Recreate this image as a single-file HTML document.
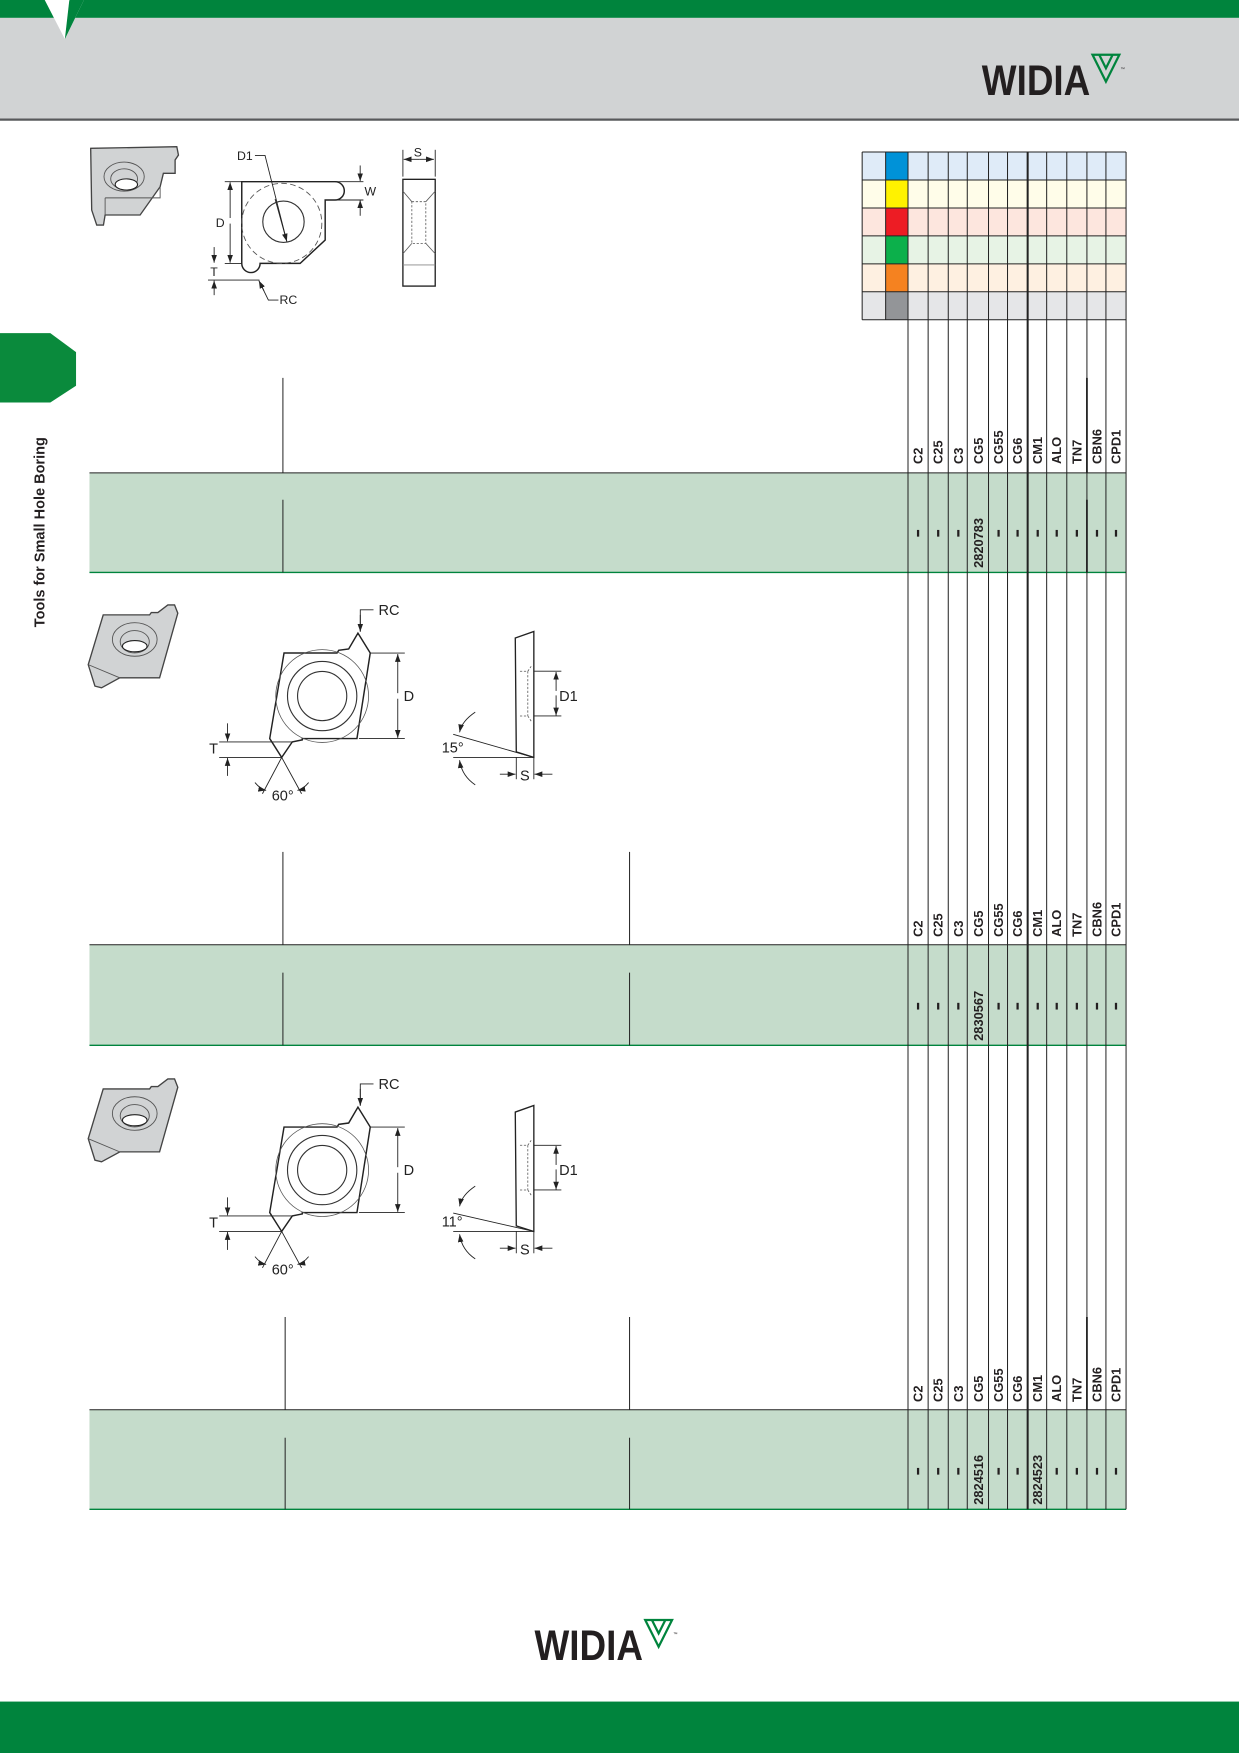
<!DOCTYPE html>
<html><head><meta charset="utf-8"><style>
html,body{margin:0;padding:0;background:#fff;}
svg{display:block;}
text{font-family:"Liberation Sans",Arial,sans-serif;}
</style></head><body>
<svg width="1239" height="1753" viewBox="0 0 1108 1568" xmlns="http://www.w3.org/2000/svg" preserveAspectRatio="none">
<defs>
<marker id="ar" markerWidth="8" markerHeight="8" refX="7" refY="4" orient="auto" markerUnits="userSpaceOnUse"><path d="M0,1.5 L7,4 L0,6.5 Z" fill="#222"/></marker>
<g id="logo">
<text x="0" y="0" font-family="'Liberation Sans Narrow','Liberation Sans',sans-serif" font-weight="bold" font-size="38" fill="#231f20" textLength="97" lengthAdjust="spacingAndGlyphs">WIDIA</text>
<path d="M99,-36 L123,-36 L111,-12 Z M105,-36 L111,-24 L117,-36" fill="none" stroke="#00843d" stroke-width="2"/>
<text x="124" y="-22" font-size="4" fill="#231f20">™</text>
</g>
<g id="s23">
<path d="M92.3,550 L133.8,550 L135.3,547.9 L141.2,547.9 L150.1,541.1 L156.1,541.1 L159,548.5 L142.7,606.3 L107.1,606.3 L90.8,615.2 L84.9,613.7 L78.9,594.5 Z" fill="#d1d3d4" stroke="#444" stroke-width="1.2"/>
<ellipse cx="120.5" cy="572" rx="20" ry="15" fill="none" stroke="#555" stroke-width="0.8"/>
<ellipse cx="120.5" cy="574" rx="13" ry="10" fill="none" stroke="#555" stroke-width="0.8"/>
<ellipse cx="120.5" cy="578" rx="11" ry="5" fill="#fff" stroke="#222" stroke-width="1"/>
<path d="M78.9,594.5 L107.1,606.3" stroke="#555" stroke-width="0.8"/>
<path d="M254,584.1 L301.4,584.1 L302.9,581.7 L311.8,580.5 L320.1,566.3 L331.1,584.1 L319.2,660.6 L270.3,660.6 L270.3,661.8 L261.4,663.6 L251.9,677.5 L241.2,660.6 Z" fill="none" stroke="#222" stroke-width="1.3"/>
<circle cx="288.1" cy="622.6" r="41.5" fill="none" stroke="#555" stroke-width="0.7"/>
<circle cx="288.1" cy="622.6" r="31" fill="none" stroke="#333" stroke-width="1"/>
<circle cx="288.1" cy="622.6" r="22" fill="none" stroke="#333" stroke-width="1"/>
<g stroke="#222" stroke-width="0.8" fill="none">
<line x1="331" y1="584.1" x2="362" y2="584.1"/><line x1="321" y1="660.6" x2="362" y2="660.6"/>
<line x1="355.7" y1="620" x2="355.7" y2="585" marker-end="url(#ar)"/><line x1="355.7" y1="625" x2="355.7" y2="660" marker-end="url(#ar)"/>
<polyline points="322.2,565 322.2,545.5 334,545.5" /><line x1="322.2" y1="550" x2="322.2" y2="565" marker-end="url(#ar)"/>
<line x1="196" y1="663.6" x2="262" y2="663.6"/><line x1="196" y1="677.5" x2="252" y2="677.5"/>
<line x1="203.5" y1="647" x2="203.5" y2="663" marker-end="url(#ar)"/><line x1="203.5" y1="694" x2="203.5" y2="678" marker-end="url(#ar)"/>
<line x1="251.9" y1="677.5" x2="234.7" y2="710"/><line x1="251.9" y1="677.5" x2="269.7" y2="710"/>
<path d="M228,700 Q233,706 238,707" marker-end="url(#ar)"/><path d="M276,700 Q271,706 266,707" marker-end="url(#ar)"/>
</g>
<text x="338.5" y="550" font-size="13" fill="#222">RC</text>
<text x="361" y="627" font-size="13" fill="#222">D</text>
<text x="187" y="674" font-size="13" fill="#222">T</text>
<text x="243" y="716" font-size="13" fill="#222">60°</text>
<path d="M460.8,570.7 L477.4,564.8 L477.4,677.5 L461.7,672.5 Z" fill="none" stroke="#222" stroke-width="1.2"/>
<g stroke="#555" stroke-width="0.7" stroke-dasharray="2,1.5" fill="none">
<polyline points="465,600.4 472,600.4 475,596"/><polyline points="465,640.4 472,640.4 475,645"/><line x1="472" y1="600.4" x2="472" y2="640.4"/>
</g>
<g stroke="#222" stroke-width="0.8" fill="none">
<line x1="477.4" y1="600.4" x2="502" y2="600.4"/><line x1="477.4" y1="640.4" x2="502" y2="640.4"/>
<line x1="497.3" y1="618" x2="497.3" y2="601" marker-end="url(#ar)"/><line x1="497.3" y1="622" x2="497.3" y2="640" marker-end="url(#ar)"/>
<line x1="405.3" y1="677.5" x2="477.4" y2="677.5"/>
<line x1="461.7" y1="677.5" x2="461.7" y2="697"/><line x1="477.4" y1="677.5" x2="477.4" y2="697"/>
<line x1="447" y1="692.5" x2="461" y2="692.5" marker-end="url(#ar)"/><line x1="494" y1="692.5" x2="478" y2="692.5" marker-end="url(#ar)"/>
<path d="M425,637 Q413,645 411,655" marker-end="url(#ar)"/><path d="M425,702 Q413,694 411,680" marker-end="url(#ar)"/>
</g>
<text x="500" y="627" font-size="13" fill="#222">D1</text>
<text x="465" y="698" font-size="13" fill="#222">S</text>
</g>
</defs>

<rect x="0" y="0" width="1108" height="16" fill="#00843d"/>
<rect x="0" y="16" width="1108" height="90" fill="#d1d3d4"/>
<rect x="0" y="106" width="1108" height="2" fill="#58595b"/>
<path d="M40,0 L75,0 L58,35 Z" fill="#fff"/>
<path d="M62,0 L75,0 L58,35 Z" fill="#00843d"/>
<path d="M58,0 L62,0 L58,16 Z" fill="#fff"/>
<use href="#logo" x="878" y="85"/>

<path d="M0,298 L45,298 L68,315 L68,345 L45,360 L0,360 Z" fill="#0a8a3c"/>
<text transform="translate(40,561) rotate(-90)" font-size="13" font-weight="bold" fill="#231f20">Tools for Small Hole Boring</text>

<g>
<rect x="771" y="136" width="236" height="25" fill="#dfebf8"/>
<rect x="771" y="161" width="236" height="25" fill="#fffde9"/>
<rect x="771" y="186" width="236" height="25" fill="#fde6de"/>
<rect x="771" y="211" width="236" height="25" fill="#e7f3e5"/>
<rect x="771" y="236" width="236" height="25" fill="#fef0e1"/>
<rect x="771" y="261" width="236" height="25" fill="#e5e6e8"/>
<rect x="792" y="136" width="20" height="25" fill="#0092d8"/>
<rect x="792" y="161" width="20" height="25" fill="#fff200"/>
<rect x="792" y="186" width="20" height="25" fill="#ed1c24"/>
<rect x="792" y="211" width="20" height="25" fill="#0cb04b"/>
<rect x="792" y="236" width="20" height="25" fill="#f58220"/>
<rect x="792" y="261" width="20" height="25" fill="#939598"/>
<g stroke="#222" stroke-width="0.9">
<line x1="771" y1="136" x2="1007" y2="136"/><line x1="771" y1="161" x2="1007" y2="161"/><line x1="771" y1="186" x2="1007" y2="186"/><line x1="771" y1="211" x2="1007" y2="211"/><line x1="771" y1="236" x2="1007" y2="236"/><line x1="771" y1="261" x2="1007" y2="261"/><line x1="771" y1="286" x2="1007" y2="286"/>
<line x1="771" y1="136" x2="771" y2="286"/><line x1="792" y1="136" x2="792" y2="286"/>
</g>
</g>

<rect x="80" y="423" width="927" height="89" fill="#c5dccb"/>
<rect x="80" y="845" width="927" height="90" fill="#c5dccb"/>
<rect x="80" y="1261" width="927" height="89" fill="#c5dccb"/>
<g stroke="#222" stroke-width="0.9">
<line x1="80" y1="423" x2="1007" y2="423"/><line x1="80" y1="845" x2="1007" y2="845"/><line x1="80" y1="1261" x2="1007" y2="1261"/>
</g>
<g stroke="#00843d" stroke-width="1.2">
<line x1="80" y1="512" x2="1007" y2="512"/><line x1="80" y1="935" x2="1007" y2="935"/><line x1="80" y1="1350" x2="1007" y2="1350"/>
</g>

<g stroke="#222" stroke-width="0.9">
<line x1="812" y1="136" x2="812" y2="1350"/><line x1="830" y1="136" x2="830" y2="1350"/><line x1="848" y1="136" x2="848" y2="1350"/><line x1="865" y1="136" x2="865" y2="1350"/><line x1="884" y1="136" x2="884" y2="1350"/><line x1="901" y1="136" x2="901" y2="1350"/><line x1="936" y1="136" x2="936" y2="1350"/><line x1="954" y1="136" x2="954" y2="1350"/><line x1="972" y1="136" x2="972" y2="1350"/><line x1="989" y1="136" x2="989" y2="1350"/><line x1="1007" y1="136" x2="1007" y2="1350"/>
<line x1="253" y1="338" x2="253" y2="423"/><line x1="253" y1="447" x2="253" y2="512"/>
<line x1="253" y1="762" x2="253" y2="845"/><line x1="253" y1="870" x2="253" y2="935"/>
<line x1="563" y1="762" x2="563" y2="845"/><line x1="563" y1="870" x2="563" y2="935"/>
<line x1="255" y1="1178" x2="255" y2="1261"/><line x1="255" y1="1286" x2="255" y2="1350"/>
<line x1="563" y1="1178" x2="563" y2="1261"/><line x1="563" y1="1286" x2="563" y2="1350"/>
</g>
<line x1="919" y1="136" x2="919" y2="1350" stroke="#222" stroke-width="1.8"/>
<g stroke="#222" stroke-width="1.6">
<line x1="972" y1="338" x2="972" y2="423"/><line x1="972" y1="447" x2="972" y2="512"/>
<line x1="972" y1="1178" x2="972" y2="1261"/>
</g>

<g font-size="11.5" font-weight="bold" fill="#231f20" id="labs">
<text transform="translate(825,415) rotate(-90)">C2</text>
<text transform="translate(843,415) rotate(-90)">C25</text>
<text transform="translate(861,415) rotate(-90)">C3</text>
<text transform="translate(879,415) rotate(-90)">CG5</text>
<text transform="translate(897,415) rotate(-90)">CG55</text>
<text transform="translate(914,415) rotate(-90)">CG6</text>
<text transform="translate(932,415) rotate(-90)">CM1</text>
<text transform="translate(949,415) rotate(-90)">ALO</text>
<text transform="translate(967,415) rotate(-90)">TN7</text>
<text transform="translate(985,415) rotate(-90)">CBN6</text>
<text transform="translate(1002,415) rotate(-90)">CPD1</text>
</g>
<use href="#labs" y="423"/>
<use href="#labs" y="839"/>

<g fill="#231f20" id="d1">
<rect x="820" y="474" width="2" height="6"/><rect x="838" y="474" width="2" height="6"/><rect x="856" y="474" width="2" height="6"/>
<rect x="892" y="474" width="2" height="6"/><rect x="909" y="474" width="2" height="6"/><rect x="927" y="474" width="2" height="6"/><rect x="944" y="474" width="2" height="6"/><rect x="962" y="474" width="2" height="6"/><rect x="980" y="474" width="2" height="6"/><rect x="997" y="474" width="2" height="6"/>
</g>
<text transform="translate(879,508) rotate(-90)" font-size="11.5" font-weight="bold" fill="#231f20">2820783</text>
<use href="#d1" y="423"/>
<text transform="translate(879,931) rotate(-90)" font-size="11.5" font-weight="bold" fill="#231f20">2830567</text>
<g fill="#231f20">
<rect x="820" y="1313" width="2" height="6"/><rect x="838" y="1313" width="2" height="6"/><rect x="856" y="1313" width="2" height="6"/>
<rect x="892" y="1313" width="2" height="6"/><rect x="909" y="1313" width="2" height="6"/><rect x="944" y="1313" width="2" height="6"/><rect x="962" y="1313" width="2" height="6"/><rect x="980" y="1313" width="2" height="6"/><rect x="997" y="1313" width="2" height="6"/>
</g>
<text transform="translate(879,1346) rotate(-90)" font-size="11.5" font-weight="bold" fill="#231f20">2824516</text>
<text transform="translate(932,1346) rotate(-90)" font-size="11.5" font-weight="bold" fill="#231f20">2824523</text>

<!-- drawing 1 -->
<path d="M81.1,132.7 L158.1,131.2 L159.6,138.7 L156.6,143.1 L156.6,155 L146.1,155 L143.2,167 L125.3,192.3 L94,192.3 L92.5,201.3 L86.5,201.3 L82,187.9 Z" fill="#d1d3d4" stroke="#444" stroke-width="1.2"/>
<ellipse cx="111" cy="158" rx="18" ry="13" fill="none" stroke="#555" stroke-width="0.8"/>
<ellipse cx="111" cy="160" rx="12" ry="9" fill="none" stroke="#555" stroke-width="0.8"/>
<ellipse cx="113" cy="165" rx="10" ry="5" fill="#fff" stroke="#222" stroke-width="1"/>
<path d="M94,177 L94,192.3 M94,177 L143.2,177 L143.2,167" stroke="#555" fill="none" stroke-width="0.8"/>
<path d="M216.2,162.5 L299.7,162.5 A8,8 0 0 1 299.7,178.9 L290.8,178.9 L290.8,214.7 L268.4,235.6 L232.6,235.6 A8,8 0 0 1 216.2,235.6 Z" fill="none" stroke="#222" stroke-width="1.3"/>
<circle cx="252" cy="199.8" r="35.8" fill="none" stroke="#555" stroke-width="0.8" stroke-dasharray="5,3"/>
<circle cx="253.5" cy="198.3" r="18.5" fill="none" stroke="#333" stroke-width="1"/>
<g stroke="#222" stroke-width="0.8" fill="none">
<polyline points="228,139 237,139 256.5,216"/>
<line x1="246" y1="178" x2="256.5" y2="216" marker-end="url(#ar)"/>
<line x1="201" y1="162.5" x2="216" y2="162.5"/><line x1="201" y1="235.6" x2="216" y2="235.6"/>
<line x1="205.8" y1="195" x2="205.8" y2="163" marker-end="url(#ar)"/><line x1="205.8" y1="200" x2="205.8" y2="235" marker-end="url(#ar)"/>
<line x1="300" y1="162.5" x2="325" y2="162.5"/><line x1="300" y1="178.9" x2="325" y2="178.9"/>
<line x1="322.1" y1="148" x2="322.1" y2="162" marker-end="url(#ar)"/><line x1="322.1" y1="193" x2="322.1" y2="179" marker-end="url(#ar)"/>
<line x1="186" y1="250.5" x2="232" y2="250.5"/>
<line x1="191.5" y1="221" x2="191.5" y2="235" marker-end="url(#ar)"/><line x1="191.5" y1="264" x2="191.5" y2="251" marker-end="url(#ar)"/>
<polyline points="249,268.4 240,268.4 232,252"/>
<line x1="236" y1="260" x2="231.5" y2="251" marker-end="url(#ar)"/>
<rect x="360.3" y="160.4" width="28.9" height="95.5" stroke-width="1.2"/>
<line x1="360.3" y1="237" x2="389.2" y2="237" stroke="#888"/>
<line x1="360.3" y1="134" x2="360.3" y2="158"/><line x1="389.2" y1="134" x2="389.2" y2="158"/>
<line x1="375" y1="142.5" x2="361" y2="142.5" marker-end="url(#ar)"/><line x1="375" y1="142.5" x2="388" y2="142.5" marker-end="url(#ar)"/>
</g>
<g stroke="#555" stroke-width="0.7" fill="none">
<line x1="360.3" y1="171" x2="368.3" y2="180.4"/><line x1="389.2" y1="171" x2="380.8" y2="180.4"/>
<line x1="360.3" y1="227" x2="368.3" y2="217.7"/><line x1="389.2" y1="227" x2="380.8" y2="217.7"/>
<rect x="368.3" y="180.4" width="12.5" height="37.3" stroke-dasharray="2,1.5"/>
</g>
<g font-size="11" fill="#222">
<text x="212" y="143">D1</text><text x="193" y="203">D</text><text x="326" y="175">W</text><text x="188" y="247">T</text><text x="250" y="272">RC</text><text x="370" y="140">S</text>
</g>

<use href="#s23"/>
<line x1="405.3" y1="656.8" x2="477.4" y2="677.5" stroke="#222" stroke-width="0.8"/>
<text x="395" y="673" font-size="13" fill="#222">15°</text>
<g transform="translate(0,424)">
<use href="#s23"/>
</g>
<line x1="405.3" y1="1085" x2="477.4" y2="1101.5" stroke="#222" stroke-width="0.8"/>
<text x="395" y="1097" font-size="13" fill="#222">11°</text>

<use href="#logo" x="478" y="1485"/>
<rect x="0" y="1522" width="1108" height="46" fill="#00843d"/>
</svg>
</body></html>
